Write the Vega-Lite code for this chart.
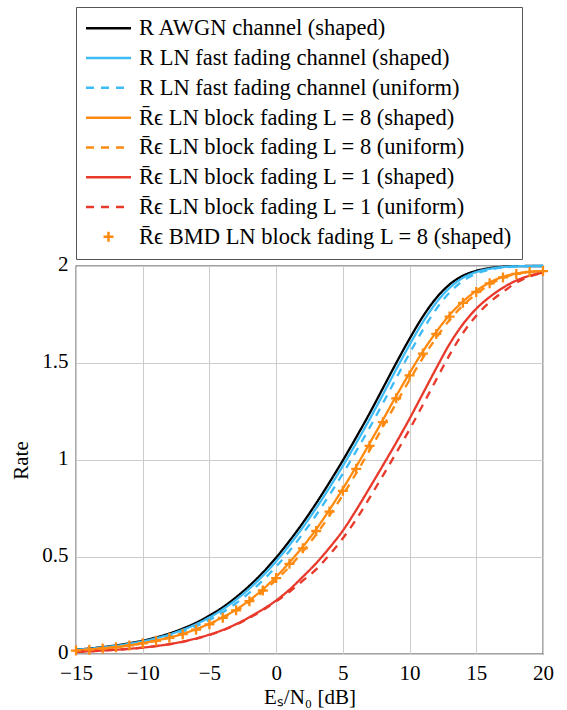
{
  "$schema": "https://vega.github.io/schema/vega-lite/v6.json",
  "autosize": {"type": "none"},
  "padding": {"left": 76, "top": 266, "right": 24, "bottom": 56},
  "width": 467,
  "height": 388,
  "background": "white",
  "datasets": {
    "curves": [
      {"s":"awgn","x":-15,"y":0.0225},{"s":"awgn","x":-14,"y":0.0283},{"s":"awgn","x":-13,"y":0.0355},{"s":"awgn","x":-12,"y":0.0445},{"s":"awgn","x":-11,"y":0.0556},{"s":"awgn","x":-10,"y":0.0688},{"s":"awgn","x":-9,"y":0.0855},{"s":"awgn","x":-8,"y":0.106},{"s":"awgn","x":-7,"y":0.131},{"s":"awgn","x":-6,"y":0.161},{"s":"awgn","x":-5,"y":0.198},{"s":"awgn","x":-4,"y":0.241},{"s":"awgn","x":-3,"y":0.293},{"s":"awgn","x":-2,"y":0.352},{"s":"awgn","x":-1,"y":0.42},{"s":"awgn","x":0,"y":0.497},{"s":"awgn","x":1,"y":0.583},{"s":"awgn","x":2,"y":0.676},{"s":"awgn","x":3,"y":0.777},{"s":"awgn","x":4,"y":0.885},{"s":"awgn","x":5,"y":0.998},{"s":"awgn","x":6,"y":1.117},{"s":"awgn","x":7,"y":1.24},{"s":"awgn","x":8,"y":1.37},{"s":"awgn","x":9,"y":1.5},{"s":"awgn","x":10,"y":1.625},{"s":"awgn","x":11,"y":1.74},{"s":"awgn","x":12,"y":1.835},{"s":"awgn","x":13,"y":1.905},{"s":"awgn","x":14,"y":1.95},{"s":"awgn","x":15,"y":1.975},{"s":"awgn","x":16,"y":1.989},{"s":"awgn","x":17,"y":1.996},{"s":"awgn","x":18,"y":1.999},{"s":"awgn","x":19,"y":2.0},{"s":"awgn","x":20,"y":2.0},
      {"s":"ffs","x":-15,"y":0.0214},{"s":"ffs","x":-14,"y":0.0269},{"s":"ffs","x":-13,"y":0.0337},{"s":"ffs","x":-12,"y":0.0423},{"s":"ffs","x":-11,"y":0.0528},{"s":"ffs","x":-10,"y":0.0655},{"s":"ffs","x":-9,"y":0.0813},{"s":"ffs","x":-8,"y":0.1009},{"s":"ffs","x":-7,"y":0.1248},{"s":"ffs","x":-6,"y":0.1535},{"s":"ffs","x":-5,"y":0.1888},{"s":"ffs","x":-4,"y":0.2303},{"s":"ffs","x":-3,"y":0.28},{"s":"ffs","x":-2,"y":0.3373},{"s":"ffs","x":-1,"y":0.403},{"s":"ffs","x":0,"y":0.4778},{"s":"ffs","x":1,"y":0.5615},{"s":"ffs","x":2,"y":0.6528},{"s":"ffs","x":3,"y":0.7518},{"s":"ffs","x":4,"y":0.858},{"s":"ffs","x":5,"y":0.9698},{"s":"ffs","x":6,"y":1.0873},{"s":"ffs","x":7,"y":1.2093},{"s":"ffs","x":8,"y":1.3375},{"s":"ffs","x":9,"y":1.4675},{"s":"ffs","x":10,"y":1.5938},{"s":"ffs","x":11,"y":1.7113},{"s":"ffs","x":12,"y":1.8113},{"s":"ffs","x":13,"y":1.8875},{"s":"ffs","x":14,"y":1.9388},{"s":"ffs","x":15,"y":1.9688},{"s":"ffs","x":16,"y":1.9855},{"s":"ffs","x":17,"y":1.9943},{"s":"ffs","x":18,"y":1.9983},{"s":"ffs","x":19,"y":1.9998},{"s":"ffs","x":20,"y":2.0},
      {"s":"ffu","x":-15,"y":0.0198},{"s":"ffu","x":-14,"y":0.0248},{"s":"ffu","x":-13,"y":0.0312},{"s":"ffu","x":-12,"y":0.0391},{"s":"ffu","x":-11,"y":0.0489},{"s":"ffu","x":-10,"y":0.0609},{"s":"ffu","x":-9,"y":0.0755},{"s":"ffu","x":-8,"y":0.0937},{"s":"ffu","x":-7,"y":0.116},{"s":"ffu","x":-6,"y":0.143},{"s":"ffu","x":-5,"y":0.1758},{"s":"ffu","x":-4,"y":0.2152},{"s":"ffu","x":-3,"y":0.2618},{"s":"ffu","x":-2,"y":0.3166},{"s":"ffu","x":-1,"y":0.3792},{"s":"ffu","x":0,"y":0.4508},{"s":"ffu","x":1,"y":0.5314},{"s":"ffu","x":2,"y":0.6202},{"s":"ffu","x":3,"y":0.7164},{"s":"ffu","x":4,"y":0.8202},{"s":"ffu","x":5,"y":0.93},{"s":"ffu","x":6,"y":1.0456},{"s":"ffu","x":7,"y":1.1662},{"s":"ffu","x":8,"y":1.292},{"s":"ffu","x":9,"y":1.422},{"s":"ffu","x":10,"y":1.55},{"s":"ffu","x":11,"y":1.671},{"s":"ffu","x":12,"y":1.778},{"s":"ffu","x":13,"y":1.863},{"s":"ffu","x":14,"y":1.923},{"s":"ffu","x":15,"y":1.96},{"s":"ffu","x":16,"y":1.981},{"s":"ffu","x":17,"y":1.992},{"s":"ffu","x":18,"y":1.997},{"s":"ffu","x":19,"y":1.999},{"s":"ffu","x":20,"y":2.0},
      {"s":"b8s","x":-15,"y":0.018},{"s":"b8s","x":-14,"y":0.023},{"s":"b8s","x":-13,"y":0.029},{"s":"b8s","x":-12,"y":0.036},{"s":"b8s","x":-11,"y":0.045},{"s":"b8s","x":-10,"y":0.056},{"s":"b8s","x":-9,"y":0.069},{"s":"b8s","x":-8,"y":0.085},{"s":"b8s","x":-7,"y":0.104},{"s":"b8s","x":-6,"y":0.128},{"s":"b8s","x":-5,"y":0.156},{"s":"b8s","x":-4,"y":0.19},{"s":"b8s","x":-3,"y":0.229},{"s":"b8s","x":-2,"y":0.277},{"s":"b8s","x":-1,"y":0.333},{"s":"b8s","x":0,"y":0.398},{"s":"b8s","x":1,"y":0.472},{"s":"b8s","x":2,"y":0.553},{"s":"b8s","x":3,"y":0.643},{"s":"b8s","x":4,"y":0.744},{"s":"b8s","x":5,"y":0.852},{"s":"b8s","x":6,"y":0.966},{"s":"b8s","x":7,"y":1.085},{"s":"b8s","x":8,"y":1.207},{"s":"b8s","x":9,"y":1.33},{"s":"b8s","x":10,"y":1.448},{"s":"b8s","x":11,"y":1.56},{"s":"b8s","x":12,"y":1.66},{"s":"b8s","x":13,"y":1.748},{"s":"b8s","x":14,"y":1.817},{"s":"b8s","x":15,"y":1.872},{"s":"b8s","x":16,"y":1.915},{"s":"b8s","x":17,"y":1.944},{"s":"b8s","x":18,"y":1.961},{"s":"b8s","x":19,"y":1.97},{"s":"b8s","x":20,"y":1.974},
      {"s":"b8u","x":-15,"y":0.0176},{"s":"b8u","x":-14,"y":0.0225},{"s":"b8u","x":-13,"y":0.0284},{"s":"b8u","x":-12,"y":0.0353},{"s":"b8u","x":-11,"y":0.0441},{"s":"b8u","x":-10,"y":0.0549},{"s":"b8u","x":-9,"y":0.0677},{"s":"b8u","x":-8,"y":0.0834},{"s":"b8u","x":-7,"y":0.1021},{"s":"b8u","x":-6,"y":0.1256},{"s":"b8u","x":-5,"y":0.1532},{"s":"b8u","x":-4,"y":0.1849},{"s":"b8u","x":-3,"y":0.2232},{"s":"b8u","x":-2,"y":0.2674},{"s":"b8u","x":-1,"y":0.3218},{"s":"b8u","x":0,"y":0.3818},{"s":"b8u","x":1,"y":0.4498},{"s":"b8u","x":2,"y":0.5287},{"s":"b8u","x":3,"y":0.616},{"s":"b8u","x":4,"y":0.7137},{"s":"b8u","x":5,"y":0.8196},{"s":"b8u","x":6,"y":0.9318},{"s":"b8u","x":7,"y":1.0493},{"s":"b8u","x":8,"y":1.1704},{"s":"b8u","x":9,"y":1.2931},{"s":"b8u","x":10,"y":1.4126},{"s":"b8u","x":11,"y":1.5264},{"s":"b8u","x":12,"y":1.63},{"s":"b8u","x":13,"y":1.7216},{"s":"b8u","x":14,"y":1.7963},{"s":"b8u","x":15,"y":1.8555},{"s":"b8u","x":16,"y":1.9043},{"s":"b8u","x":17,"y":1.9382},{"s":"b8u","x":18,"y":1.9585},{"s":"b8u","x":19,"y":1.9691},{"s":"b8u","x":20,"y":1.974},
      {"s":"b1s","x":-15,"y":0.011},{"s":"b1s","x":-14,"y":0.014},{"s":"b1s","x":-13,"y":0.018},{"s":"b1s","x":-12,"y":0.022},{"s":"b1s","x":-11,"y":0.027},{"s":"b1s","x":-10,"y":0.033},{"s":"b1s","x":-9,"y":0.041},{"s":"b1s","x":-8,"y":0.051},{"s":"b1s","x":-7,"y":0.064},{"s":"b1s","x":-6,"y":0.08},{"s":"b1s","x":-5,"y":0.1},{"s":"b1s","x":-4,"y":0.124},{"s":"b1s","x":-3,"y":0.154},{"s":"b1s","x":-2,"y":0.19},{"s":"b1s","x":-1,"y":0.23},{"s":"b1s","x":0,"y":0.276},{"s":"b1s","x":1,"y":0.332},{"s":"b1s","x":2,"y":0.398},{"s":"b1s","x":3,"y":0.468},{"s":"b1s","x":4,"y":0.548},{"s":"b1s","x":5,"y":0.636},{"s":"b1s","x":6,"y":0.742},{"s":"b1s","x":7,"y":0.856},{"s":"b1s","x":8,"y":0.972},{"s":"b1s","x":9,"y":1.09},{"s":"b1s","x":10,"y":1.213},{"s":"b1s","x":11,"y":1.343},{"s":"b1s","x":12,"y":1.473},{"s":"b1s","x":13,"y":1.598},{"s":"b1s","x":14,"y":1.7},{"s":"b1s","x":15,"y":1.78},{"s":"b1s","x":16,"y":1.84},{"s":"b1s","x":17,"y":1.888},{"s":"b1s","x":18,"y":1.925},{"s":"b1s","x":19,"y":1.95},{"s":"b1s","x":20,"y":1.966},
      {"s":"b1u","x":-15,"y":0.0107},{"s":"b1u","x":-14,"y":0.0137},{"s":"b1u","x":-13,"y":0.0176},{"s":"b1u","x":-12,"y":0.0216},{"s":"b1u","x":-11,"y":0.0265},{"s":"b1u","x":-10,"y":0.0324},{"s":"b1u","x":-9,"y":0.0402},{"s":"b1u","x":-8,"y":0.05},{"s":"b1u","x":-7,"y":0.0627},{"s":"b1u","x":-6,"y":0.0784},{"s":"b1u","x":-5,"y":0.098},{"s":"b1u","x":-4,"y":0.1216},{"s":"b1u","x":-3,"y":0.151},{"s":"b1u","x":-2,"y":0.1864},{"s":"b1u","x":-1,"y":0.226},{"s":"b1u","x":0,"y":0.2714},{"s":"b1u","x":1,"y":0.3208},{"s":"b1u","x":2,"y":0.3782},{"s":"b1u","x":3,"y":0.4365},{"s":"b1u","x":4,"y":0.512},{"s":"b1u","x":5,"y":0.5964},{"s":"b1u","x":6,"y":0.6943},{"s":"b1u","x":7,"y":0.8047},{"s":"b1u","x":8,"y":0.9198},{"s":"b1u","x":9,"y":1.0369},{"s":"b1u","x":10,"y":1.1577},{"s":"b1u","x":11,"y":1.2845},{"s":"b1u","x":12,"y":1.4145},{"s":"b1u","x":13,"y":1.5418},{"s":"b1u","x":14,"y":1.6541},{"s":"b1u","x":15,"y":1.744},{"s":"b1u","x":16,"y":1.813},{"s":"b1u","x":17,"y":1.8664},{"s":"b1u","x":18,"y":1.9139},{"s":"b1u","x":19,"y":1.945},{"s":"b1u","x":20,"y":1.9644},
      {"s":"bmd","x":-15,"y":0.0176},{"s":"bmd","x":-14,"y":0.0225},{"s":"bmd","x":-13,"y":0.0284},{"s":"bmd","x":-12,"y":0.0353},{"s":"bmd","x":-11,"y":0.0441},{"s":"bmd","x":-10,"y":0.0549},{"s":"bmd","x":-9,"y":0.0677},{"s":"bmd","x":-8,"y":0.0834},{"s":"bmd","x":-7,"y":0.1021},{"s":"bmd","x":-6,"y":0.1256},{"s":"bmd","x":-5,"y":0.1532},{"s":"bmd","x":-4,"y":0.1866},{"s":"bmd","x":-3,"y":0.2251},{"s":"bmd","x":-2,"y":0.2722},{"s":"bmd","x":-1,"y":0.3274},{"s":"bmd","x":0,"y":0.3915},{"s":"bmd","x":1,"y":0.4646},{"s":"bmd","x":2,"y":0.5449},{"s":"bmd","x":3,"y":0.634},{"s":"bmd","x":4,"y":0.7339},{"s":"bmd","x":5,"y":0.8412},{"s":"bmd","x":6,"y":0.9546},{"s":"bmd","x":7,"y":1.0731},{"s":"bmd","x":8,"y":1.1948},{"s":"bmd","x":9,"y":1.3177},{"s":"bmd","x":10,"y":1.4362},{"s":"bmd","x":11,"y":1.5488},{"s":"bmd","x":12,"y":1.65},{"s":"bmd","x":13,"y":1.7392},{"s":"bmd","x":14,"y":1.8101},{"s":"bmd","x":15,"y":1.8665},{"s":"bmd","x":16,"y":1.9107},{"s":"bmd","x":17,"y":1.9411},{"s":"bmd","x":18,"y":1.9593},{"s":"bmd","x":19,"y":1.9691},{"s":"bmd","x":20,"y":1.9736}
    ]
  },
  "data": {"name": "curves"},
  "encoding": {
    "x": {"field": "x", "type": "quantitative",
      "scale": {"domain": [-15, 20], "nice": false, "zero": false},
      "axis": {"values": [-15, -10, -5, 0, 5, 10, 15, 20], "format": "~g", "title": "Eₛ/N₀ [dB]",
        "labelPadding": 8, "titlePadding": 3, "labelFlush": false}},
    "y": {"field": "y", "type": "quantitative",
      "scale": {"domain": [0, 2], "nice": false},
      "axis": {"values": [0, 0.5, 1, 1.5, 2], "format": "~g", "title": "Rate",
        "labelPadding": 8, "labelOffset": -2, "titlePadding": 10, "labelFlush": false}},
    "color": {"field": "s", "type": "nominal",
      "scale": {"domain": ["awgn", "ffs", "ffu", "b8s", "b8u", "b1s", "b1u", "bmd"],
        "range": ["#000000", "#3DBBF5", "#3DBBF5", "#FF8A10", "#FF8A10", "#E8392A", "#E8392A", "#FF8A10"]},
      "legend": {
        "orient": "none", "legendX": 0, "legendY": -259,
        "title": null,
        "labelExpr": "{'awgn':'R AWGN channel (shaped)','ffs':'R LN fast fading channel (shaped)','ffu':'R LN fast fading channel (uniform)','b8s':'R̄ϵ LN block fading L = 8 (shaped)','b8u':'R̄ϵ LN block fading L = 8 (uniform)','b1s':'R̄ϵ LN block fading L = 1 (shaped)','b1u':'R̄ϵ LN block fading L = 1 (uniform)','bmd':'R̄ϵ BMD LN block fading L = 8 (shaped)'}[datum.value]",
        "encode": {
          "symbols": {
            "update": {
              "shape": {"signal": "datum.value === 'bmd' ? 'M-1,0H1M0,-1V1' : 'M-4.5,0H4.5'"},
              "size": {"value": 100},
              "strokeWidth": {"value": 2.5},
              "strokeDash": {"signal": "indexof(datum.value, 'u') === 2 ? [8, 7] : [1, 0]"},
              "fill": {"value": "transparent"},
              "opacity": {"value": 1}
            }
          }
        }
      }
    }
  },
  "layer": [
    {
      "transform": [{"filter": "datum.s !== 'bmd'"}],
      "mark": {"type": "line", "strokeWidth": 2.3, "interpolate": "monotone"},
      "encoding": {
        "strokeDash": {"field": "s", "type": "nominal",
          "scale": {"domain": ["awgn", "ffs", "ffu", "b8s", "b8u", "b1s", "b1u"],
            "range": [[1, 0], [1, 0], [8, 7], [1, 0], [8, 7], [1, 0], [8, 7]]},
          "legend": null}
      }
    },
    {
      "transform": [{"filter": "datum.s === 'bmd'"}],
      "mark": {"type": "point", "shape": "M-1,0H1M0,-1V1", "size": 100, "filled": false, "strokeWidth": 2.3, "opacity": 1}
    }
  ],
  "config": {
    "font": "Liberation Serif",
    "view": {"stroke": "#444444", "strokeWidth": 1.3},
    "axis": {
      "labelFont": "Liberation Serif", "labelFontSize": 21, "labelColor": "#000000",
      "titleFont": "Liberation Serif", "titleFontSize": 21, "titleFontWeight": "normal", "titleColor": "#000000",
      "gridColor": "#cccccc", "gridWidth": 1, "domain": false, "ticks": false
    },
    "legend": {
      "labelFont": "Liberation Serif", "labelFontSize": 22.5, "labelColor": "#000000", "labelLimit": 600,
      "padding": 10, "rowPadding": 6.8, "symbolOffset": 11.25, "labelOffset": 19.25,
      "strokeColor": "#555555", "fillColor": "#ffffff", "cornerRadius": 0
    }
  }
}
